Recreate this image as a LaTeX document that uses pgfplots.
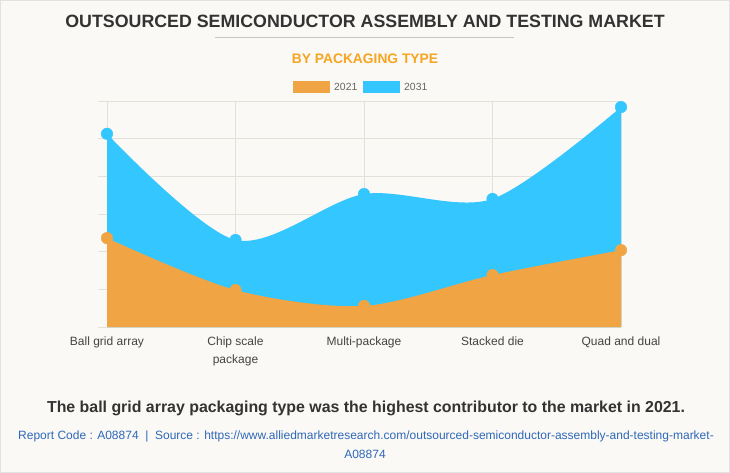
\documentclass[border=0pt]{standalone}
\usepackage{pgfplots}
\pgfplotsset{compat=1.18}
\usepackage{fontspec}
\setmainfont{Liberation Sans}
\definecolor{bgcol}{HTML}{FAF9F5}
\definecolor{bordercol}{HTML}{E2E2E2}
\definecolor{gridcol}{HTML}{E3E0DA}
\definecolor{titlecol}{HTML}{333333}
\definecolor{subcol}{HTML}{F7A521}
\definecolor{orangeA}{HTML}{F0A443}
\definecolor{blueA}{HTML}{33C6FF}
\definecolor{labcol}{HTML}{444444}
\definecolor{legcol}{HTML}{666666}
\definecolor{srccol}{HTML}{2F68B8}
\begin{document}
\begin{tikzpicture}
\fill[bgcol] (0pt,0pt) rectangle (730pt,-473pt);
\draw[bordercol, line width=1pt] (0.5pt,-0.5pt) rectangle (729.5pt,-472.5pt);
\node[anchor=base, inner sep=0pt, text=titlecol, font=\fontsize{17.8}{21}\selectfont\bfseries] at (365pt,-27.7pt) {OUTSOURCED SEMICONDUCTOR ASSEMBLY AND TESTING MARKET};
\draw[gray!45, line width=0.8pt] (215pt,-37.3pt) -- (514pt,-37.3pt);
\node[anchor=base, inner sep=0pt, text=subcol, font=\fontsize{13.8}{16}\selectfont\bfseries] at (365pt,-63.3pt) {BY PACKAGING TYPE};
% legend
\fill[orangeA] (293.3pt,-81pt) rectangle (330pt,-93pt);
\node[anchor=base west, inner sep=0pt, text=legcol, font=\fontsize{10.4}{12}\selectfont] at (334pt,-91pt) {2021};
\fill[blueA] (363pt,-81pt) rectangle (400pt,-93pt);
\node[anchor=base west, inner sep=0pt, text=legcol, font=\fontsize{10.4}{12}\selectfont] at (404pt,-91pt) {2031};
\begin{axis}[
  at={(107pt,-327pt)}, anchor=south west,
  scale only axis, width=514pt, height=226pt,
  xmin=0, xmax=4, ymin=0, ymax=6,
  clip=false,
  axis line style={draw=none},
  grid=major, major grid style={color=gridcol, line width=0.8pt},
  xtick={0,1,2,3,4},
  xticklabels={Ball grid array, Chip scale\\package, Multi-package, Stacked die, Quad and dual},
  ytick={0,1,2,3,4,5,6}, yticklabels={},
  xtick pos=bottom, ytick pos=left,
  tick align=outside, major tick length=9pt,
  tick style={color=gridcol, line width=0.8pt},
  xtick style={draw=none},
  x tick label style={align=center, text=labcol, font=\fontsize{12}{18}\selectfont, anchor=north, inner sep=0pt, yshift=-1pt},
]
\addplot[draw=none, fill=blueA, smooth, tension=0.5] coordinates {(0,5.13) (1,2.31) (2,3.53) (3,3.40) (4,5.84)} \closedcycle;
\addplot[draw=none, fill=orangeA, smooth, tension=0.5] coordinates {(0,2.36) (1,0.98) (2,0.56) (3,1.38) (4,2.04)} \closedcycle;
\addplot[only marks, mark=*, mark size=5.8pt, blueA, mark options={draw=none, fill=blueA}] coordinates {(0,5.13) (1,2.31) (2,3.53) (3,3.40) (4,5.84)};
\addplot[only marks, mark=*, mark size=5.8pt, orangeA, mark options={draw=none, fill=orangeA}] coordinates {(0,2.36) (1,0.98) (2,0.56) (3,1.38) (4,2.04)};
\end{axis}
\node[anchor=base, inner sep=0pt, text=titlecol, font=\fontsize{15.9}{18}\selectfont\bfseries] at (366pt,-412.7pt) {The ball grid array packaging type was the highest contributor to the market in 2021.};
\node[anchor=base, inner sep=0pt, text=srccol, font=\fontsize{12}{15}\selectfont] at (366pt,-439.3pt) {Report Code : A08874\ \ |\ \ Source : https://www.alliedmarketresearch.com/outsourced-semiconductor-assembly-and-testing-market-};
\node[anchor=base, inner sep=0pt, text=srccol, font=\fontsize{12}{15}\selectfont] at (365pt,-458pt) {A08874};
\end{tikzpicture}
\end{document}
